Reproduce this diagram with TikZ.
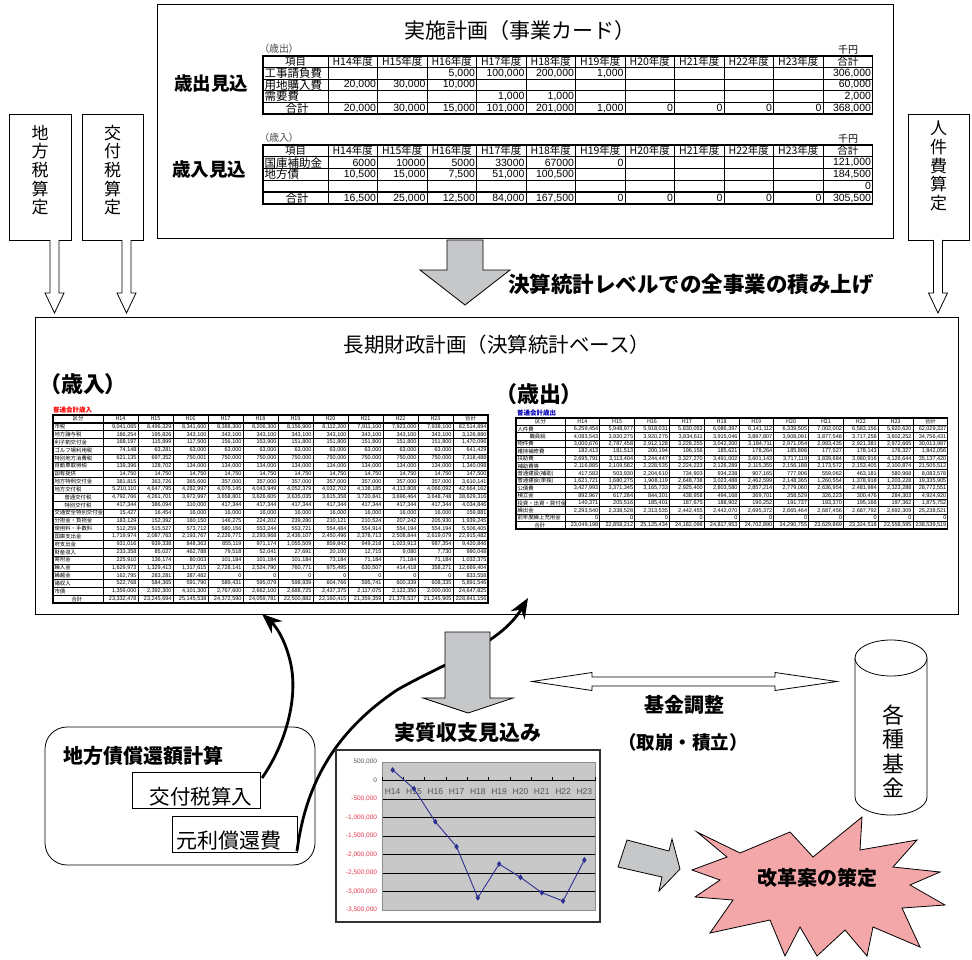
\documentclass[tikz,border=0pt]{standalone}
\usepackage{fontspec}
\setmainfont{Liberation Sans}
\newfontfamily\jp{Noto Sans CJK JP}
\newfontfamily\jpp[CharacterWidth=AlternateProportional]{Noto Sans CJK JP}
\usetikzlibrary{arrows.meta,plotmarks}
\definecolor{arrgray}{HTML}{C6C7C9}
\definecolor{starpink}{HTML}{F4A7A9}
\definecolor{plotgray}{HTML}{C8C8C8}
\definecolor{lineblue}{HTML}{2E3192}
\definecolor{negred}{HTML}{E8384F}
\definecolor{axgray}{HTML}{555555}
\newcommand\tabrow[8]{%
  \pgfmathsetmacro\rowy{#4+(#6+0.5)*#5}%
  \node[tlab] at ({#1+1.5},\rowy) {#7};%
  \foreach \v [count=\i] in {#8} {\node[tnum] at ({#1+#2+\i*#3-1.5},\rowy) {\v};}%
}
\newcommand\tabhead[6]{%
  \node[thead] at ({#1+#2/2},#4) {#5};%
  \foreach \v [count=\i] in {#6} {\node[thead] at ({#1+#2+(\i-0.5)*#3},#4) {\v};}%
}
\newcommand\tabgrid[6]{%
  \pgfmathsetmacro\gx{#1+#2+11*#3}\pgfmathsetmacro\gy{#4+#6*#5}\pgfmathtruncatemacro\gn{#6-1}%
  \foreach \k in {1,...,\gn} {\draw[tgrid] (#1,{#4+\k*#5}) -- (\gx,{#4+\k*#5});}%
  \foreach \k in {0,...,10} {\draw[tgrid] ({#1+#2+\k*#3},#4) -- ({#1+#2+\k*#3},\gy);}%
  \draw[tframe] (#1,#4) rectangle (\gx,\gy);%
  \draw[tframe] (#1,{#4+#5}) -- (\gx,{#4+#5});%
  \draw[tframe] (#1,{#4+\gn*#5}) -- (\gx,{#4+\gn*#5});%
}
\begin{document}
\begin{tikzpicture}[x=1pt,y=-1pt,
  every node/.style={inner sep=0pt,outer sep=0pt},
  jpt/.style={font={\jp\fontsize{#1}{#1}\selectfont}},
  jpb/.style={font={\jp\bfseries\fontsize{#1}{#1}\selectfont}},
  hollow/.style={draw,line width=0.8pt,fill=white},
  grayarrow/.style={draw,line width=0.8pt,fill=arrgray},
  curve/.style={line width=2.8pt,-{Stealth[length=20pt,width=16pt]}},
  tgrid/.style={line width=0.7pt},
  tframe/.style={line width=1.4pt},
]
\useasboundingbox (0,0) rectangle (972,960);
\fill[white] (0,0) rectangle (972,960);

% ---------------- top card ----------------
\node[draw,line width=1pt,anchor=north west,minimum width=736pt,minimum height=234pt] (card) at (157,5) {};
\node[jpt=21] (cardtitle) at (520,31) {実施計画（事業カード）};
\node[jpb=18.5] (outlab) at (211,84) {歳出見込};
\node[jpb=18.5] (inlab) at (209,170) {歳入見込};
\node[anchor=west,font={\jpp\fontsize{10}{10}\selectfont},text=black!70] (outsm) at (264,49) {（歳出）};
\node[anchor=west,font={\jpp\fontsize{10}{10}\selectfont},text=black!70] (insm) at (264,138) {（歳入）};
\node[font={\jp\fontsize{10}{10}\selectfont}] (yen1) at (848,50) {千円};
\node[font={\jp\fontsize{10}{10}\selectfont}] (yen2) at (848,139) {千円};
\begin{scope}[tlab/.style={anchor=west,font={\jp\fontsize{11.5}{11.5}\selectfont}},
              tnum/.style={anchor=east,font={\fontsize{10.5}{10.5}\selectfont}},
              thead/.style={font={\jp\fontsize{10.5}{10.5}\selectfont}}]
  \tabgrid{263}{65}{49.5}{56}{11.6}{5}
  \tabhead{263}{65}{49.5}{61.8}{項目}{H14年度,H15年度,H16年度,H17年度,H18年度,H19年度,H20年度,H21年度,H22年度,H23年度,合計}
  \tabrow{263}{65}{49.5}{56}{11.6}{1}{工事請負費}{{},{},{5,000},{100,000},{200,000},{1,000},{},{},{},{},{306,000}}
  \tabrow{263}{65}{49.5}{56}{11.6}{2}{用地購入費}{{20,000},{30,000},{10,000},{},{},{},{},{},{},{},{60,000}}
  \tabrow{263}{65}{49.5}{56}{11.6}{3}{需要費}{{},{},{},{1,000},{1,000},{},{},{},{},{},{2,000}}
  \tabrow{263}{65}{49.5}{56}{11.6}{4}{\hspace{21pt}合計}{{20,000},{30,000},{15,000},{101,000},{201,000},{1,000},{0},{0},{0},{0},{368,000}}
  \tabgrid{263}{65}{49.5}{145}{11.8}{5}
  \tabhead{263}{65}{49.5}{150.9}{項目}{H14年度,H15年度,H16年度,H17年度,H18年度,H19年度,H20年度,H21年度,H22年度,H23年度,合計}
  \tabrow{263}{65}{49.5}{145}{11.8}{1}{国庫補助金}{{6000},{10000},{5000},{33000},{67000},{0},{},{},{},{},{121,000}}
  \tabrow{263}{65}{49.5}{145}{11.8}{2}{地方債}{{10,500},{15,000},{7,500},{51,000},{100,500},{},{},{},{},{},{184,500}}
  \tabrow{263}{65}{49.5}{145}{11.8}{3}{}{{},{},{},{},{},{},{},{},{},{},{0}}
  \tabrow{263}{65}{49.5}{145}{11.8}{4}{\hspace{21pt}合計}{{16,500},{25,000},{12,500},{84,000},{167,500},{0},{0},{0},{0},{0},{305,500}}
\end{scope}

% ---------------- side boxes ----------------
\node[draw,line width=0.8pt,minimum width=62pt,minimum height=126pt] (chiho) at (40,177) {};
\node[align=center,font={\jp\fontsize{17}{18.7}\selectfont}] (chihot) at (40,170) {地\\方\\税\\算\\定};
\node[draw,line width=0.8pt,minimum width=61pt,minimum height=126pt] (kofuzei) at (112.5,177) {};
\node[align=center,font={\jp\fontsize{17}{18.7}\selectfont}] (kofuzeit) at (112.5,170) {交\\付\\税\\算\\定};
\node[draw,line width=0.8pt,minimum width=61pt,minimum height=126pt] (jinken) at (938.5,177) {};
\node[align=center,font={\jp\fontsize{17}{18.7}\selectfont}] (jinkent) at (938.5,166) {人\\件\\費\\算\\定};
\foreach \c in {54.5,126.5,938} {
  \draw[hollow] (\c-4.5,240) -- (\c-4.5,293) -- (\c-9.5,293) -- (\c,313) -- (\c+9.5,293) -- (\c+4.5,293) -- (\c+4.5,240);
}

% big gray arrow top
\draw[grayarrow] (447,240) -- (447,270) -- (420,270) -- (465,305) -- (510,270) -- (483,270) -- (483,240) -- cycle;
\node[jpb=21.5,anchor=west] (sumlab) at (508,284) {決算統計レベルでの全事業の積み上げ};

% ---------------- main box ----------------
\node[draw,line width=1pt,anchor=north west,minimum width=923pt,minimum height=297pt] (main) at (35,317) {};
\node[jpt=20.5] (maintitle) at (497,345) {長期財政計画（決算統計ベース）};
\node[anchor=west,font={\jpp\bfseries\fontsize{22}{22}\selectfont}] (revt) at (50,384) {（歳入）};
\node[anchor=west,font={\jpp\bfseries\fontsize{22}{22}\selectfont}] (expt) at (506,394) {（歳出）};
\node[anchor=west,font={\jp\bfseries\fontsize{6.5}{6.5}\selectfont},text=red] (revsm) at (53,410) {普通会計歳入};
\node[anchor=west,font={\jp\bfseries\fontsize{6.5}{6.5}\selectfont},text=blue!70!black] (expsm) at (517,413) {普通会計歳出};

\begin{scope}[tlab/.style={anchor=west,font={\jp\fontsize{5.4}{5.4}\selectfont}},
              tnum/.style={anchor=east,font={\fontsize{5.5}{5.5}\selectfont}},
              thead/.style={font={\jp\fontsize{5.4}{5.4}\selectfont}},
              tgrid/.style={line width=0.65pt}, tframe/.style={line width=1.2pt}]
  \tabgrid{53}{50}{35}{415}{7.833}{24}
  \tabhead{53}{50}{35}{418.9}{区分}{H14,H15,H16,H17,H18,H19,H20,H21,H22,H23,合計}
  \tabrow{53}{50}{35}{415}{7.833}{1}{市税}{{9,041,065},{8,496,329},{8,341,600},{8,388,300},{8,206,300},{8,156,900},{8,112,200},{7,911,100},{7,923,000},{7,938,100},{82,514,894}}
  \tabrow{53}{50}{35}{415}{7.833}{2}{地方譲与税}{{186,254},{195,826},{343,100},{343,100},{343,100},{343,100},{343,100},{343,100},{343,100},{343,100},{3,126,880}}
  \tabrow{53}{50}{35}{415}{7.833}{3}{利子割交付金}{{168,197},{115,899},{117,500},{156,100},{153,900},{151,800},{151,800},{151,800},{151,800},{151,800},{1,470,096}}
  \tabrow{53}{50}{35}{415}{7.833}{4}{ゴルフ場利用税}{{74,148},{63,281},{63,000},{63,000},{63,000},{63,000},{63,000},{63,000},{63,000},{63,000},{641,429}}
  \tabrow{53}{50}{35}{415}{7.833}{5}{特別地方消費税}{{621,135},{697,352},{750,001},{750,000},{750,000},{750,000},{750,000},{750,000},{750,000},{750,000},{7,318,488}}
  \tabrow{53}{50}{35}{415}{7.833}{6}{自動車取得税}{{139,396},{128,702},{134,000},{134,000},{134,000},{134,000},{134,000},{134,000},{134,000},{134,000},{1,340,098}}
  \tabrow{53}{50}{35}{415}{7.833}{7}{国有提供}{{14,750},{14,750},{14,750},{14,750},{14,750},{14,750},{14,750},{14,750},{14,750},{14,750},{147,500}}
  \tabrow{53}{50}{35}{415}{7.833}{8}{地方特例交付金}{{381,815},{363,726},{365,600},{357,000},{357,000},{357,000},{357,000},{357,000},{357,000},{357,000},{3,610,141}}
  \tabrow{53}{50}{35}{415}{7.833}{9}{地方交付税}{{5,210,110},{4,647,795},{4,282,997},{4,076,145},{4,043,949},{4,052,379},{4,032,702},{4,138,185},{4,113,808},{4,066,092},{42,664,162}}
  \tabrow{53}{50}{35}{415}{7.833}{10}{\hspace{10pt}普通交付税}{{4,792,766},{4,261,701},{3,972,997},{3,658,801},{3,626,605},{3,635,035},{3,615,358},{3,720,841},{3,696,464},{3,648,748},{38,629,316}}
  \tabrow{53}{50}{35}{415}{7.833}{11}{\hspace{10pt}特別交付税}{{417,344},{386,094},{310,000},{417,344},{417,344},{417,344},{417,344},{417,344},{417,344},{417,344},{4,034,846}}
  \tabrow{53}{50}{35}{415}{7.833}{12}{交通安全特別交付金}{{15,427},{16,454},{16,000},{16,000},{16,000},{16,000},{16,000},{16,000},{16,000},{16,000},{159,881}}
  \tabrow{53}{50}{35}{415}{7.833}{13}{分担金・負担金}{{183,129},{152,392},{160,150},{146,275},{224,202},{239,280},{210,121},{210,524},{207,242},{205,930},{1,939,245}}
  \tabrow{53}{50}{35}{415}{7.833}{14}{使用料・手数料}{{512,259},{515,527},{573,712},{580,156},{553,244},{553,721},{554,484},{554,914},{554,194},{554,194},{5,506,405}}
  \tabrow{53}{50}{35}{415}{7.833}{15}{国庫支出金}{{1,719,974},{2,087,763},{2,193,767},{2,226,771},{2,293,968},{2,436,107},{2,450,496},{2,378,713},{2,508,844},{2,619,079},{22,915,482}}
  \tabrow{53}{50}{35}{415}{7.833}{16}{府支出金}{{931,016},{939,338},{848,363},{855,119},{971,174},{1,055,509},{859,842},{949,218},{1,023,913},{987,354},{9,420,846}}
  \tabrow{53}{50}{35}{415}{7.833}{17}{財産収入}{{233,358},{85,027},{462,788},{79,518},{52,041},{27,691},{20,100},{12,715},{9,080},{7,730},{990,048}}
  \tabrow{53}{50}{35}{415}{7.833}{18}{寄附金}{{225,910},{136,174},{80,003},{101,184},{101,184},{101,184},{73,184},{71,184},{71,184},{71,184},{1,032,375}}
  \tabrow{53}{50}{35}{415}{7.833}{19}{繰入金}{{1,629,973},{1,329,413},{1,317,615},{2,728,141},{2,524,790},{760,771},{975,495},{630,507},{414,418},{358,271},{12,669,404}}
  \tabrow{53}{50}{35}{415}{7.833}{20}{繰越金}{{162,795},{283,281},{387,482},{0},{0},{0},{0},{0},{0},{0},{833,558}}
  \tabrow{53}{50}{35}{415}{7.833}{21}{諸収入}{{522,768},{584,365},{591,790},{589,431},{595,079},{598,939},{604,766},{595,741},{600,339},{608,335},{5,891,546}}
  \tabrow{53}{50}{35}{415}{7.833}{22}{市債}{{1,359,000},{2,392,300},{4,101,300},{2,767,600},{2,662,100},{2,688,725},{2,437,375},{2,117,075},{2,122,350},{2,000,000},{24,647,825}}
  \tabrow{53}{50}{35}{415}{7.833}{23}{\hspace{17pt}合計}{{23,332,478},{23,245,694},{25,145,538},{24,372,590},{24,059,781},{22,500,882},{22,160,415},{21,359,359},{21,378,537},{21,245,905},{228,841,156}}

  \tabgrid{516}{49}{34.8}{418}{7.4}{15}
  \tabhead{516}{49}{34.8}{421.7}{区分}{H14,H15,H16,H17,H18,H19,H20,H21,H22,H23,合計}
  \tabrow{516}{49}{34.8}{418}{7.4}{1}{人件費}{{6,259,454},{5,948,977},{5,918,031},{5,830,053},{6,086,397},{6,141,112},{6,339,505},{7,002,002},{6,583,156},{5,920,620},{62,029,337}}
  \tabrow{516}{49}{34.8}{418}{7.4}{2}{\hspace{12pt}職員給}{{4,083,543},{3,920,275},{3,920,275},{3,834,611},{3,915,046},{3,897,807},{3,908,091},{3,877,548},{3,717,258},{3,602,252},{34,756,431}}
  \tabrow{516}{49}{34.8}{418}{7.4}{3}{物件費}{{3,000,676},{2,787,458},{2,912,128},{3,228,255},{3,042,200},{3,184,711},{2,971,054},{2,993,435},{2,921,381},{2,972,665},{30,013,987}}
  \tabrow{516}{49}{34.8}{418}{7.4}{4}{維持補修費}{{182,413},{181,513},{200,194},{196,156},{185,621},{178,264},{185,898},{177,527},{178,143},{176,327},{1,842,056}}
  \tabrow{516}{49}{34.8}{418}{7.4}{5}{扶助費}{{2,695,791},{3,113,404},{3,244,447},{3,327,270},{3,491,002},{3,601,143},{3,717,119},{3,839,684},{3,980,916},{4,126,644},{35,137,420}}
  \tabrow{516}{49}{34.8}{418}{7.4}{6}{補助費等}{{2,116,885},{2,109,582},{2,228,535},{2,224,223},{2,126,289},{2,115,355},{2,156,188},{2,173,572},{2,153,405},{2,100,874},{21,505,512}}
  \tabrow{516}{49}{34.8}{418}{7.4}{7}{普通建設(補助)}{{417,583},{503,930},{2,204,610},{734,903},{934,238},{907,165},{777,906},{559,062},{463,181},{580,968},{8,083,578}}
  \tabrow{516}{49}{34.8}{418}{7.4}{8}{普通建設(単独)}{{1,621,721},{1,680,275},{1,908,119},{2,648,738},{3,023,488},{2,462,599},{2,148,365},{1,260,554},{1,378,918},{1,203,228},{19,335,905}}
  \tabrow{516}{49}{34.8}{418}{7.4}{9}{公債費}{{3,427,993},{3,371,345},{3,165,733},{2,925,400},{2,803,580},{2,857,214},{2,779,060},{2,636,954},{2,481,984},{2,323,288},{28,772,551}}
  \tabrow{516}{49}{34.8}{418}{7.4}{10}{積立金}{{892,967},{617,284},{844,301},{438,958},{494,168},{369,701},{358,529},{326,223},{300,476},{284,303},{4,924,920}}
  \tabrow{516}{49}{34.8}{418}{7.4}{11}{投資・出資・貸付金}{{140,371},{205,516},{185,401},{187,675},{188,902},{190,252},{191,737},{193,370},{195,166},{197,362},{1,875,752}}
  \tabrow{516}{49}{34.8}{418}{7.4}{12}{繰出金}{{2,293,540},{2,338,528},{2,313,535},{2,442,455},{2,442,070},{2,695,372},{2,665,464},{2,687,456},{2,687,792},{2,692,309},{25,238,521}}
  \tabrow{516}{49}{34.8}{418}{7.4}{13}{前年度繰上充用金}{{0},{0},{0},{0},{0},{0},{0},{0},{0},{0},{0}}
  \tabrow{516}{49}{34.8}{418}{7.4}{14}{\hspace{17pt}合計}{{23,049,198},{22,858,212},{25,125,434},{24,182,098},{24,817,953},{24,702,890},{24,290,755},{23,629,869},{23,324,518},{22,558,595},{238,539,519}}
\end{scope}

% ---------------- bottom left rounded box ----------------
\node[draw,line width=0.8pt,rounded corners=22pt,anchor=north west,minimum width=270pt,minimum height=138pt] (chisai) at (45,727) {};
\node[jpb=20,anchor=west] (chisait) at (63,756) {地方債償還額計算};
\node[draw,line width=0.8pt,fill=white,anchor=north west,minimum width=128pt,minimum height=36pt] (kofu) at (132,772) {};
\node[jpt=20.5] (kofut) at (201,797) {交付税算入};
\node[draw,line width=0.8pt,fill=white,anchor=north west,minimum width=125pt,minimum height=36pt] (ganri) at (172,816) {};
\node[jpt=21] (ganrit) at (229,841) {元利償還費};

\coordinate (c1s) at (262,778);
\coordinate (c1e) at (262,614);
\coordinate (c2s) at (297,851);
\coordinate (c2e) at (528,598);
\draw[curve] (c1s) .. controls (285,745) and (298,700) .. (291,665) .. controls (287,645) and (278,628) .. (c1e);
\draw[curve] (c2s) .. controls (305,790) and (330,735) .. (397,690) .. controls (440,665) and (500,645) .. (c2e);

% gray arrow down to chart
\draw[grayarrow] (445,632) -- (445,698) -- (423,698) -- (468,713) -- (513,698) -- (490,698) -- (490,632) -- cycle;
\node[jpb=21] (jisshu) at (468,733) {実質収支見込み};

% ---------------- chart ----------------
\node[draw=black!80,line width=1.2pt,fill=white,anchor=north west,minimum width=264pt,minimum height=172pt] (chart) at (336,750) {};
\fill[plotgray] (382,762) rectangle (595,910);
\foreach \k in {0,...,8} {\draw[line width=0.6pt] (382,{762+\k*18.5}) -- (595,{762+\k*18.5});}
\draw[line width=1pt] (382,780.5) -- (595,780.5);
\draw[black!45,line width=0.6pt] (382,762) rectangle (595,910);
\foreach \i in {0,...,10} {\draw[line width=0.6pt] ({382+\i*21.3},776.5) -- ({382+\i*21.3},780.5);}
\foreach \v [count=\k from 0] in {{500,000},{0},{-500,000},{-1,000,000},{-1,500,000},{-2,000,000},{-2,500,000},{-3,000,000},{-3,500,000}} {
  \ifnum\k<2 \def\lc{axgray}\else\def\lc{negred}\fi
  \node[anchor=east,font={\fontsize{6.5}{6.5}\selectfont},text=\lc] at (377,{762+\k*18.5}) {\v};
}
\foreach \i in {0,...,9} {\pgfmathtruncatemacro\yr{14+\i}
  \node[font={\fontsize{8.5}{8.5}\selectfont},text=axgray] at ({392.65+\i*21.3},792) {H\yr};}
\draw[lineblue,line width=0.9pt,mark=diamond*,mark size=2.2pt,mark options={fill=lineblue}] plot coordinates {
 (392.65,770) (413.95,788.7) (435.25,821.7) (456.55,846.7) (477.85,897.7)
 (499.15,864) (520.45,877.3) (541.75,892.7) (563.05,901) (584.35,860)};

% ---------------- fund adjustment ----------------
\draw[hollow] (532,681.5) -- (592,672.5) -- (592,677) -- (775,677) -- (775,672.5) -- (837,681.5) -- (775,690.5) -- (775,686) -- (592,686) -- (592,690.5) -- cycle;
\node[jpb=20] (kikin) at (684,705) {基金調整};
\node[jpb=18.5] (torikuzushi) at (683,742) {（取崩・積立）};
\draw[line width=0.8pt,fill=white] (855,658) -- (855,797) arc[start angle=180,end angle=0,x radius=36,y radius=18] -- (927,658);
\draw[line width=0.8pt,fill=white] (891,658) ellipse [x radius=36,y radius=18];
\node[align=center,font={\jp\fontsize{22}{24.5}\selectfont}] (kikint) at (893,751) {各\\種\\基\\金};

% gray right arrow
\draw[grayarrow] (618,867) -- (627,840) -- (669,851) -- (672,839) -- (680,869) -- (659,891) -- (662,877) -- cycle;

% star
\draw[line width=0.8pt,fill=starpink] (697,832) -- (740,853) -- (790,832) -- (813,857) -- (862,817) -- (860,850) -- (917,840) -- (893,867) -- (940,872) -- (910,885) -- (945,905) -- (902,908) -- (920,947) -- (873,927) -- (867,956) -- (845,930) -- (817,956) -- (800,927) -- (785,956) -- (770,920) -- (710,933) -- (733,900) -- (695,897) -- (720,880) -- (692,870) -- (727,857) -- cycle;
\node[jpb=20] (kaikaku) at (817,878) {改革案の策定};
\end{tikzpicture}
\end{document}
